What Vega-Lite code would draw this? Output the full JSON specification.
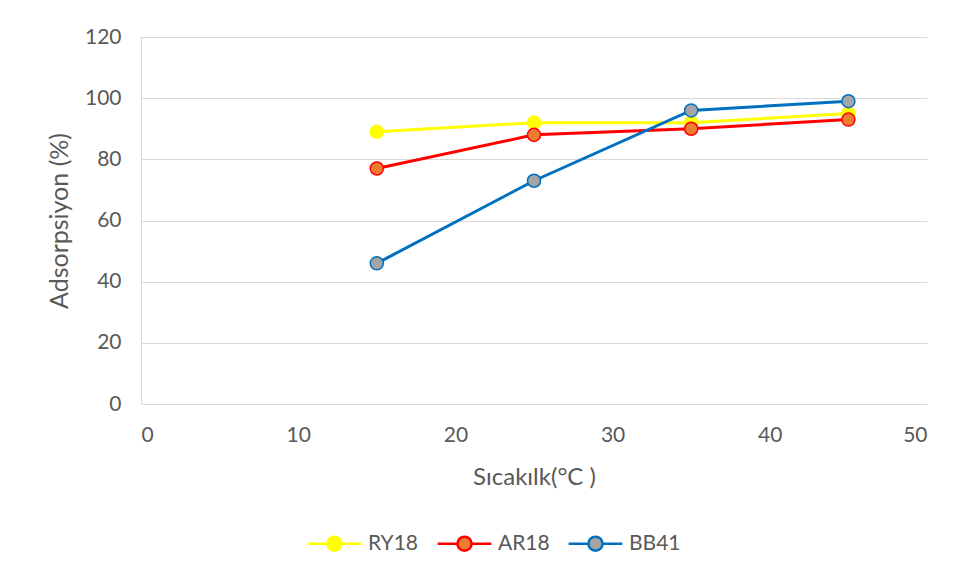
{
  "$schema": "https://vega.github.io/schema/vega-lite/v6.json",
  "autosize": "none",
  "width": 786,
  "height": 367,
  "padding": {"left": 141, "top": 37, "right": 31, "bottom": 174},
  "background": "white",
  "config": {
    "font": "Lato",
    "view": {"stroke": null},
    "axis": {"labelFont": "Lato", "titleFont": "Lato", "labelColor": "#595959", "titleColor": "#595959", "titleFontWeight": "normal", "domainColor": "#d9d9d9", "gridColor": "#d9d9d9", "ticks": false},
    "legend": {"orient": "none", "legendX": 183, "legendY": 496, "direction": "horizontal", "title": null, "labelFontSize": 21, "labelColor": "#595959", "labelFont": "Lato", "symbolType": "M-3.8,0L-1,0M-1,0A1,1 0 1,1 1,0A1,1 0 1,1 -1,0M1,0L3.8,0", "symbolSize": 200, "symbolStrokeWidth": 2.5, "columnPadding": 13, "labelOffset": 23}
  },
  "data": {"values": [
    {"T": 15, "A": 89, "s": "RY18"}, {"T": 25, "A": 92, "s": "RY18"}, {"T": 35, "A": 92, "s": "RY18"}, {"T": 45, "A": 95, "s": "RY18"},
    {"T": 15, "A": 77, "s": "AR18"}, {"T": 25, "A": 88, "s": "AR18"}, {"T": 35, "A": 90, "s": "AR18"}, {"T": 45, "A": 93, "s": "AR18"},
    {"T": 15, "A": 46, "s": "BB41"}, {"T": 25, "A": 73, "s": "BB41"}, {"T": 35, "A": 96, "s": "BB41"}, {"T": 45, "A": 99, "s": "BB41"}
  ]},
  "encoding": {
    "x": {"field": "T", "type": "quantitative", "scale": {"domain": [0, 50], "nice": false}, "axis": {"values": [0, 10, 20, 30, 40, 50], "grid": false, "labelFontSize": 21, "labelPadding": 20, "title": "Sıcakılk(°C )", "titleFontSize": 24, "titlePadding": 20}},
    "y": {"field": "A", "type": "quantitative", "scale": {"domain": [0, 120], "nice": false}, "axis": {"values": [0, 20, 40, 60, 80, 100, 120], "labelFontSize": 21, "labelPadding": 20, "title": "Adsorpsiyon (%)", "titleFontSize": 25, "titlePadding": 12}}
  },
  "layer": [
    {"mark": {"type": "line", "strokeWidth": 3},
     "encoding": {"stroke": {"field": "s", "type": "nominal", "scale": {"domain": ["RY18", "AR18", "BB41"], "range": ["#FFFF00", "#FF0000", "#0070C0"]}}}},
    {"mark": {"type": "point", "filled": false, "size": 170, "strokeWidth": 1.5, "opacity": 1},
     "encoding": {
       "stroke": {"field": "s", "type": "nominal", "scale": {"domain": ["RY18", "AR18", "BB41"], "range": ["#FFFF00", "#FF0000", "#0070C0"]}},
       "fill": {"field": "s", "type": "nominal", "scale": {"domain": ["RY18", "AR18", "BB41"], "range": ["#FFFF00", "#ED7D31", "#A5A5A5"]}}
     }}
  ]
}
